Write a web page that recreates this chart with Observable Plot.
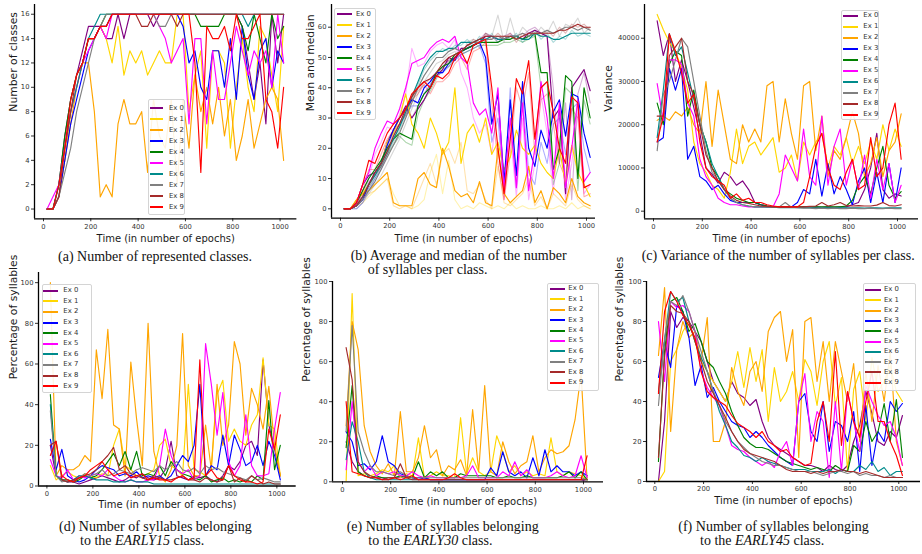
<!DOCTYPE html>
<html><head><meta charset="utf-8">
<script src="https://cdn.jsdelivr.net/npm/d3@7"></script>
<script src="https://cdn.jsdelivr.net/npm/@observablehq/plot@0.6"></script>
<style>
body{margin:0;background:#fff;}
#fig{position:relative;width:922px;height:554px;overflow:hidden;background:#fff;}
.cap{position:absolute;font-family:"Liberation Serif","Times New Roman",serif;font-size:14px;line-height:14px;white-space:nowrap;color:#111;}
.leg{position:absolute;border:1px solid #d4d4d4;border-radius:2px;background:rgba(255,255,255,0.88);box-sizing:border-box;}
.legtxt{position:absolute;font-family:"DejaVu Sans";font-size:6.9px;line-height:6.9px;color:#333;white-space:nowrap;}
.legline{position:absolute;height:2px;}
</style></head><body><div id="fig"></div>
<script>
const epochs = [15,40,65,90,115,140,165,190,215,240,265,290,315,340,365,390,415,440,465,490,515,540,565,590,615,640,665,690,715,740,765,790,815,840,865,890,915,940,965,990,1015];
const names = ["Ex 0","Ex 1","Ex 2","Ex 3","Ex 4","Ex 5","Ex 6","Ex 7","Ex 8","Ex 9"];
const palette = ["#800080","#FFD700","#FFA500","#0000FF","#008000","#FF00FF","#008B8B","#808080","#A52A2A","#FF0000"];
const xTicks = [0,200,400,600,800,1000];
const xLabel = "Time (in number of epochs)";
const yLabels = ["Number of classes","Mean and median","Variance","Percentage of syllables","Percentage of syllables","Percentage of syllables"];

// (a) number of represented classes
const classes = [
[0,0,2,6,9,11,13,15,15,15,14,14,16,14,16,16,16,16,15,16,16,16,16,16,16,16,16,16,16,16,16,16,16,15,12,9,12,7,16,12,16],
[0,0,1,4,8,10,12,14,14,15,14,12,15,11,13,12,13,11,12,13,12,12,16,16,8,11,13,5,13,13,12,5,10,14,10,8,15,14,11,8,15],
[0,0,1,4,7,10,12,12,8,1,2,1,7,9,7,7,8,3,9,6,5,9,2,9,5,11,8,10,7,10,6,9,4,6,9,5,7,9,10,9,4],
[0,0,1,4,7,9,11,13,14,15,15,16,16,16,16,16,16,16,16,16,16,16,16,15,12,13,10,9,13,13,10,14,9,15,11,9,13,14,10,13,12],
[0,0,2,6,9,11,12,14,14,15,16,16,16,16,16,16,16,16,16,16,16,16,16,16,16,16,15,15,15,15,16,16,16,15,13,16,14,12,16,14,15],
[0,1,2,5,8,10,12,13,14,15,14,16,16,16,16,16,16,16,16,15,14,12,13,14,7,14,14,7,13,9,9,12,15,13,11,13,12,13,10,16,12],
[0,0,2,5,8,10,12,14,15,16,16,16,16,16,16,16,16,16,16,16,16,16,16,16,16,16,16,16,16,16,16,16,16,16,15,16,16,16,16,16,16],
[0,0,1,3,5,8,10,12,14,15,16,16,16,16,16,16,16,16,16,15,15,16,16,16,16,16,16,16,16,16,16,16,16,16,16,16,16,16,16,16,16],
[0,0,1,5,8,11,12,14,14,15,15,16,16,16,16,16,15,15,16,16,16,16,15,16,16,16,16,16,16,16,16,16,16,16,16,16,16,16,16,16,16],
[0,0,2,5,9,11,12,14,14,15,15,16,16,16,16,16,16,16,16,16,16,16,16,16,16,12,3,15,14,14,15,13,16,14,14,15,16,9,8,5,10]
];
// (b) mean number of syllables per class
const meanSyll = [
[0,0,2,8,11,12,15,22,26,30,34,30,33,36,40,44,46,50,49,53,53,54,55,57,57,56,56,57,57,56,58,59,58,57,30,33,5,40,43,46,39],
[0,0,3,5,8,12,15,22,25,30,38,28,25,20,30,25,18,22,40,15,25,28,22,30,18,22,13,17,26,20,18,21,15,12,10,20,8,21,12,8,4],
[0,0,3,5,6,8,10,12,2,1,1,1,10,12,8,7,20,14,6,4,5,2,9,2,1,20,5,2,4,6,14,2,6,0,7,5,2,10,4,2,1],
[0,0,1,3,8,12,15,21,26,30,33,36,35,40,42,45,45,48,50,52,53,54,55,50,28,38,9,36,11,42,20,14,26,20,32,36,24,38,37,25,17],
[0,0,2,6,10,13,16,20,23,25,24,23,34,38,40,45,47,48,51,52,53,54,55,55,55,55,56,56,57,56,57,58,45,45,13,20,44,42,10,40,30],
[0,0,2,8,12,20,25,29,28,33,40,48,49,50,53,55,56,55,57,50,48,35,31,33,25,40,6,30,7,35,6,20,42,30,10,35,7,20,36,9,12],
[0,0,1,4,8,11,15,19,23,27,32,37,42,47,50,52,52,53,53,55,55,55,56,56,57,56,56,57,57,56,56,58,57,57,56,56,57,58,58,58,58],
[0,0,1,3,6,9,13,17,21,25,30,35,40,44,47,50,50,52,53,52,54,55,55,56,56,57,56,57,57,58,57,58,58,59,58,59,60,60,59,60,59],
[0,0,1,4,8,12,15,19,24,28,33,37,40,42,43,45,48,50,51,52,54,55,56,57,57,57,57,57,56,57,58,58,58,58,58,59,59,60,61,60,60],
[0,0,2,8,16,15,20,25,28,30,33,38,40,42,40,44,43,45,50,52,48,54,55,56,40,20,5,23,43,38,49,23,40,42,32,20,15,37,35,7,8]
];
// (b) median number of syllables per class (faded)
const medianSyll = [
[0,0,1,5,9,11,14,20,25,28,33,30,34,38,41,45,47,49,50,52,54,55,56,58,57,55,57,58,56,57,59,60,58,57,40,15,35,3,38,45,35],
[0,0,1,2,4,6,8,10,5,1,1,0,1,3,12,18,5,16,3,0,1,0,2,1,0,1,0,2,0,1,0,0,1,0,0,1,0,2,0,1,0],
[0,0,1,3,5,6,8,10,1,0,1,0,5,10,15,8,18,20,15,22,6,5,8,3,0,14,2,1,3,5,10,1,4,0,5,3,1,8,3,1,0],
[0,0,0,2,6,10,13,18,24,28,31,34,34,38,41,44,45,47,49,51,52,53,54,48,22,30,5,40,7,38,12,8,22,15,28,30,18,33,35,20,12],
[0,0,1,4,8,11,14,18,21,24,22,21,31,36,39,43,46,47,50,51,52,53,54,54,54,54,55,55,56,55,56,57,40,42,8,15,40,38,6,36,28],
[0,0,1,6,10,18,22,27,26,31,38,53,47,48,52,54,55,53,56,45,40,30,25,28,18,35,3,25,4,30,3,15,38,25,5,30,3,15,32,5,8],
[0,0,1,3,7,10,14,18,22,26,31,36,41,46,49,51,53,52,54,54,56,54,57,55,58,55,57,56,58,55,57,59,56,58,55,57,56,59,57,58,57],
[0,0,0,2,5,8,11,15,19,23,28,33,38,42,45,48,49,51,52,50,55,56,53,58,57,64,55,63,56,60,58,57,60,58,62,57,61,60,63,58,60],
[0,0,1,3,7,11,14,18,23,27,32,36,39,41,43,44,47,49,50,53,53,56,55,58,56,58,56,58,55,58,57,59,57,59,57,60,58,61,60,61,59],
[0,0,1,6,13,13,18,23,26,28,31,36,38,41,38,42,42,44,48,50,46,52,53,55,35,15,3,18,40,33,45,18,36,38,28,15,10,33,30,4,5]
];
// (c) variance of the number of syllables per class
const variance = [
[44000,36000,41000,30000,35000,30000,24000,18000,10000,8500,6500,9000,8000,6000,7000,5000,2000,1500,1200,1000,1000,1000,900,900,1000,900,1000,900,1000,900,1000,1000,1500,2000,5000,10000,18000,5000,3000,4000,3500],
[45500,42000,39000,37000,33000,28000,16000,11000,9000,6000,5000,3000,9000,19000,11000,15000,16000,13000,15000,17000,9000,10000,13000,7000,16000,13000,16000,18000,10000,15000,13000,17000,11000,15000,11000,16000,12000,20000,14000,19000,15000],
[21000,22000,21000,23000,22000,24000,20000,18000,30000,15000,28000,20000,12000,11000,20000,16000,19000,16000,29000,30000,16000,26000,18000,12000,29000,30000,14000,22000,8000,14000,12000,17000,23000,18000,8000,11000,17000,8000,14000,16000,22500],
[16000,17000,33000,28000,33000,12000,15000,8000,7000,5000,6000,4000,2500,2000,2000,2000,2000,1500,1000,1000,1000,1000,1000,2000,5000,4000,12000,3500,11000,4000,8000,5000,1500,7000,10000,2000,9000,2000,11000,2000,10000],
[25000,20000,34000,37000,36000,22000,28000,20000,16000,10000,8000,5000,4000,3000,2500,2000,2000,1500,1200,1000,1000,1000,1000,1000,1000,1000,1000,1000,1000,1000,1000,1200,2500,6000,8000,4000,10000,15000,6000,3000,4500],
[29500,21000,35000,35000,34000,25000,22000,12000,8000,6000,3000,2000,1500,1500,1200,1000,1000,1000,1000,1000,4000,13000,10000,7000,19000,8000,6000,22000,6000,15000,19000,6000,12000,5000,13000,3000,12000,5000,11000,2000,6000],
[17000,28000,41000,36000,38000,32000,26000,20000,16000,11000,8000,5000,3000,2000,1500,1200,1000,1000,900,900,800,800,800,800,800,800,700,800,800,700,800,800,800,800,700,800,800,700,800,800,800],
[14000,27000,30000,35000,40000,38000,30000,22000,14000,9000,7000,5000,3000,2000,1500,1200,1000,1000,1000,900,1000,2000,900,800,700,700,600,700,600,700,600,600,700,600,600,700,600,600,700,600,600],
[22000,22000,36000,38000,40000,30000,27000,20000,13000,10000,7000,5000,3500,2500,2000,1800,1500,1200,1100,1000,1000,1000,1000,1000,1000,1100,1200,2000,1200,1500,2000,1300,1200,1300,1200,1200,1400,2000,1300,1200,1500],
[16000,22000,41000,37000,32000,25000,27000,16000,10000,8000,7000,6000,3000,4000,2500,3000,2000,2000,1500,1200,1000,1000,1000,1000,2000,8000,15000,18000,10000,6000,5000,9000,12000,5000,6000,17000,8000,10000,20000,25000,12000]
];
// (d) EARLY15 percentage
const early15 = [
[20,5,3,2,2,1,2,3,4,5,4,3,2,3,5,4,6,4,3,4,8,22,5,4,3,5,4,5,3,2,5,10,8,12,20,22,15,62,30,18,5],
[10,3,5,7,5,4,6,5,4,6,5,20,28,10,8,5,5,6,8,20,23,10,8,5,50,8,7,5,10,45,52,22,28,22,20,30,35,63,30,28,5],
[100,5,10,8,8,10,15,12,67,43,77,30,28,5,61,33,10,80,17,5,2,8,20,75,10,5,5,30,8,50,20,30,71,60,25,48,40,28,49,20,5],
[23,8,18,5,3,2,3,5,8,10,9,8,5,6,5,7,4,5,4,5,3,5,10,15,12,20,50,5,10,8,25,10,25,18,10,12,20,10,22,15,3],
[45,5,3,3,2,3,5,4,5,8,12,16,10,17,8,17,5,6,5,10,5,12,8,6,5,4,3,5,2,3,4,2,3,2,3,2,5,3,42,8,20],
[13,5,4,8,3,5,4,5,6,5,8,5,3,2,3,2,2,3,3,10,28,15,8,6,8,3,5,70,50,25,46,12,5,10,35,10,5,5,6,28,46],
[40,5,3,2,3,5,5,4,3,3,3,2,2,2,3,2,2,2,1,1,1,1,1,1,1,1,1,1,1,1,1,1,1,1,1,1,1,1,1,1,1],
[37,5,2,3,2,4,6,5,6,8,5,6,8,7,6,8,9,8,7,10,8,10,12,8,7,9,6,10,8,9,7,6,5,4,3,5,3,4,3,2,2],
[20,22,3,2,3,4,5,6,8,12,15,19,8,10,6,5,4,3,5,4,3,3,4,5,3,3,2,4,3,2,3,10,2,4,2,5,3,1,2,1,1],
[15,22,5,3,2,4,5,8,10,12,8,5,6,7,4,5,6,3,4,3,3,2,4,5,3,4,62,5,8,4,3,10,5,3,2,2,1,2,28,18,35]
];
// (e) EARLY30 percentage
const early30 = [
[20,10,5,3,2,2,2,1,2,2,3,2,1,2,1,1,1,1,1,1,1,1,1,1,1,1,1,1,1,1,1,1,1,1,1,1,1,1,1,1,0],
[0,94,3,4,3,4,6,5,8,2,4,3,22,2,3,5,3,3,2,32,4,12,5,3,5,23,15,5,8,3,5,3,4,3,22,5,3,5,4,3,1],
[28,80,66,28,15,8,4,9,3,35,5,5,12,28,12,16,3,8,6,11,3,36,5,48,5,3,20,10,4,8,10,23,5,12,16,14,15,18,31,54,1],
[25,20,8,9,6,10,23,10,8,4,3,2,2,2,1,1,1,1,1,1,1,1,1,1,7,3,15,5,3,5,2,12,3,16,5,8,5,5,3,5,3],
[17,48,5,3,2,3,2,2,2,3,2,2,10,2,5,3,5,2,2,4,3,3,3,3,3,2,2,3,2,2,3,2,2,2,2,2,3,5,2,5,1],
[6,40,10,5,8,3,5,4,5,3,3,5,3,2,3,2,2,2,2,2,3,8,2,2,2,2,5,3,10,3,6,2,2,2,3,5,3,2,3,13,2],
[11,30,20,5,2,1,1,1,1,1,1,1,1,1,1,1,1,1,1,1,1,1,1,1,1,1,1,1,1,1,1,1,1,1,1,1,1,1,1,1,1],
[25,78,25,15,8,5,5,4,3,5,3,2,2,2,2,2,2,2,2,2,2,2,2,2,2,2,2,2,2,2,2,2,2,2,2,2,2,2,2,2,1],
[67,51,10,5,3,2,1,2,2,9,2,1,1,1,1,1,1,1,1,1,1,1,1,1,1,1,1,1,1,1,1,1,1,1,1,1,1,1,1,1,1],
[40,5,4,3,2,2,1,1,2,1,2,3,1,1,1,1,1,2,4,2,1,1,1,1,1,1,1,1,1,1,1,1,1,1,1,1,1,1,1,1,13]
];
// (f) EARLY45 percentage
const early45 = [
[0,30,85,77,82,80,75,70,60,50,45,40,50,44,42,38,41,30,22,18,16,14,12,10,8,8,7,5,8,6,5,8,20,28,45,34,20,18,25,22,33],
[0,5,60,66,75,80,70,60,55,50,45,40,50,65,47,67,50,66,30,57,40,45,55,40,61,55,38,60,70,38,52,5,46,55,30,62,45,50,58,45,40],
[63,97,25,66,80,72,75,60,82,20,20,30,57,45,38,55,60,45,75,82,85,60,76,12,80,82,50,70,40,70,55,40,59,20,55,30,58,40,65,20,8],
[52,70,57,88,85,72,48,58,42,47,40,35,30,28,27,22,25,22,18,15,12,10,8,40,44,25,20,40,15,30,28,20,35,5,38,8,25,20,40,35,39],
[10,65,90,92,85,75,79,70,60,57,50,44,35,28,22,19,17,17,16,14,12,10,9,8,7,6,7,6,5,8,6,5,18,15,30,20,25,39,20,41,12],
[80,50,90,87,88,85,75,55,47,42,38,28,18,16,15,12,10,8,10,7,15,20,8,40,54,20,35,30,2,40,5,45,30,15,48,40,33,28,30,22,8],
[45,70,95,90,92,80,70,62,55,45,35,28,20,17,13,12,10,12,10,9,8,7,6,6,6,5,5,5,6,4,6,5,5,8,6,10,5,7,3,5,5],
[38,72,90,88,93,85,75,65,55,45,38,30,25,20,17,14,12,10,9,8,8,7,6,5,5,5,4,3,4,5,5,4,5,3,4,3,3,2,3,2,2],
[12,62,88,85,84,80,70,60,50,44,38,32,25,20,16,14,13,12,11,10,8,6,5,5,5,4,5,4,5,5,6,5,5,4,5,4,3,2,2,2,2],
[44,85,95,90,83,78,72,55,45,42,40,38,33,29,27,25,22,25,20,18,15,16,12,10,8,9,30,40,20,65,18,45,30,22,40,55,30,30,20,13,3]
];

const captions = [
  [["(a) Number of represented classes."]],
  [["(b) Average and median of the number"],["of syllables per class."]],
  [["(c) Variance of the number of syllables per class."]],
  [["(d) Number of syllables belonging"],["to the ","EARLY15"," class."]],
  [["(e) Number of syllables belonging"],["to the ","EARLY30"," class."]],
  [["(f) Number of syllables belonging"],["to the ","EARLY45"," class."]]
];

// layout (pixels)
const layout = [
  {data:classes, X0:34.3, X1:296.7, Y0:4, Y1:218.3, xDomain:[-38,1071], yDomain:[-0.8,16.8], yTicks:[0,2,4,6,8,10,12,14,16], ylx:-21, xly:20,
   leg:{l:147.7,t:99,w:37.5,h:116,y0:108.3,dy:11,lx0:150,lx1:163.3,tx:169}, cap:[[58,249.7],[0,0]]},
  {data:meanSyll, faded:medianSyll, X0:331, X1:595, Y0:4, Y1:217.7, xDomain:[-36.6,1036.6], yDomain:[-3.1,67.5], yTicks:[0,10,20,30,40,50,60], ylx:-21, xly:20.6,
   leg:{l:334.3,t:8.3,w:41.7,h:111.7,y0:14.3,dy:11,lx0:336.7,lx1:351.7,tx:356}, cap:[[350.7,249],[367.7,263]]},
  {data:variance, X0:644.3, X1:918.3, Y0:4, Y1:218.3, xDomain:[-36.9,1086], yDomain:[-1760,47800], yTicks:[0,10000,20000,30000,40000], ylx:-36, xly:20,
   leg:{l:841,t:10,w:38.3,h:110,y0:15.7,dy:11.03,lx0:843.3,lx1:858.3,tx:863.3}, cap:[[641.7,249],[0,0]]},
  {data:early15, X0:38.3, X1:296, Y0:271.5, Y1:485, xDomain:[-36.5,1084], yDomain:[0,105], yTicks:[0,20,40,60,80,100], ylx:-25, xly:18.5,
   leg:{l:41.7,t:284.3,w:50,h:109,y0:290.7,dy:10.6,lx0:43.3,lx1:58.3,tx:63.3}, cap:[[59,520.3],[80,533.7]]},
  {data:early30, X0:332.3, X1:603.3, Y0:280.7, Y1:481, xDomain:[-41.5,1083], yDomain:[0,100], yTicks:[0,20,40,60,80,100], ylx:-25.6, xly:19.7,
   leg:{l:546.7,t:283.3,w:52.6,h:107.4,y0:289,dy:10.41,lx0:550,lx1:565,tx:568.3}, cap:[[346.7,520.3],[368.3,533.7]]},
  {data:early45, X0:646, X1:920, Y0:280.7, Y1:480.7, xDomain:[-34,1089], yDomain:[0,100], yTicks:[0,20,40,60,80,100], ylx:-26.7, xly:19.7,
   leg:{l:862.7,t:283.3,w:53.3,h:107.4,y0:290,dy:10.3,lx0:865,lx1:880.7,tx:884}, cap:[[678.3,520.3],[700,533.7]]}
];

const fig = document.getElementById("fig");

function toRows(data){
  return data.flatMap((vals, s) => vals.map((v, i) => ({epoch: epochs[i], value: v, series: names[s]})));
}

layout.forEach((cfg, p) => {
  const ml = 50, mr = 8, mt = 8, mb = 40;
  const fw = cfg.X1 - cfg.X0, fh = cfg.Y1 - cfg.Y0;
  const marks = [];
  if (cfg.faded) marks.push(Plot.line(toRows(cfg.faded), {x:"epoch", y:"value", z:"series", stroke:"series", strokeOpacity:0.32, strokeWidth:1.1, clip:true}));
  marks.push(Plot.line(toRows(cfg.data), {x:"epoch", y:"value", z:"series", stroke:"series", strokeWidth:1.15, clip:true}));
  marks.push(Plot.ruleX([cfg.xDomain[0]], {stroke:"#000", strokeWidth:1.3}));
  marks.push(Plot.ruleY([cfg.yDomain[0]], {stroke:"#000", strokeWidth:1.3}));
  marks.push(Plot.text([yLabels[p]], {text:d=>d, frameAnchor:"left", dx:cfg.ylx, rotate:-90, fontSize:10.8, fill:"#1a1a1a"}));
  marks.push(Plot.text([xLabel], {text:d=>d, frameAnchor:"bottom", dy:cfg.xly, lineAnchor:"middle", fontSize:10, fill:"#1a1a1a"}));
  const svg = Plot.plot({
    width: ml + fw + mr, height: mt + fh + mb,
    marginLeft: ml, marginRight: mr, marginTop: mt, marginBottom: mb,
    style: {background:"transparent", overflow:"visible", fontFamily:"DejaVu Sans", fontSize:"6.8px", color:"#333"},
    x: {domain: cfg.xDomain, ticks: xTicks, tickSize: 3, tickPadding: 2, tickFormat: d3.format("d"), label: null},
    y: {domain: cfg.yDomain, ticks: cfg.yTicks, tickSize: 3, tickPadding: 2, tickFormat: d3.format("d"), label: null},
    color: {domain: names, range: palette},
    marks
  });
  svg.style.position = "absolute";
  svg.style.left = (cfg.X0 - ml) + "px";
  svg.style.top = (cfg.Y0 - mt) + "px";
  svg.style.maxWidth = "none";
  fig.appendChild(svg);

  // legend
  const L = cfg.leg;
  const box = document.createElement("div");
  box.className = "leg";
  box.style.left = L.l + "px"; box.style.top = L.t + "px";
  box.style.width = L.w + "px"; box.style.height = L.h + "px";
  fig.appendChild(box);
  names.forEach((n, k) => {
    const y = L.y0 + k * L.dy;
    const ln = document.createElement("div");
    ln.className = "legline";
    ln.style.left = L.lx0 + "px"; ln.style.width = (L.lx1 - L.lx0) + "px";
    ln.style.top = (y - 1) + "px"; ln.style.background = palette[k];
    fig.appendChild(ln);
    const t = document.createElement("div");
    t.className = "legtxt";
    t.textContent = n;
    t.style.left = L.tx + "px"; t.style.top = (y - 3.6) + "px";
    fig.appendChild(t);
  });

  // caption
  captions[p].forEach((parts, li) => {
    const c = document.createElement("div");
    c.className = "cap";
    c.style.left = cfg.cap[li][0] + "px"; c.style.top = cfg.cap[li][1] + "px";
    parts.forEach((s, si) => {
      if (si === 1) { const it = document.createElement("i"); it.textContent = s; c.appendChild(it); }
      else c.appendChild(document.createTextNode(s));
    });
    fig.appendChild(c);
  });
});
</script>
</body></html>
